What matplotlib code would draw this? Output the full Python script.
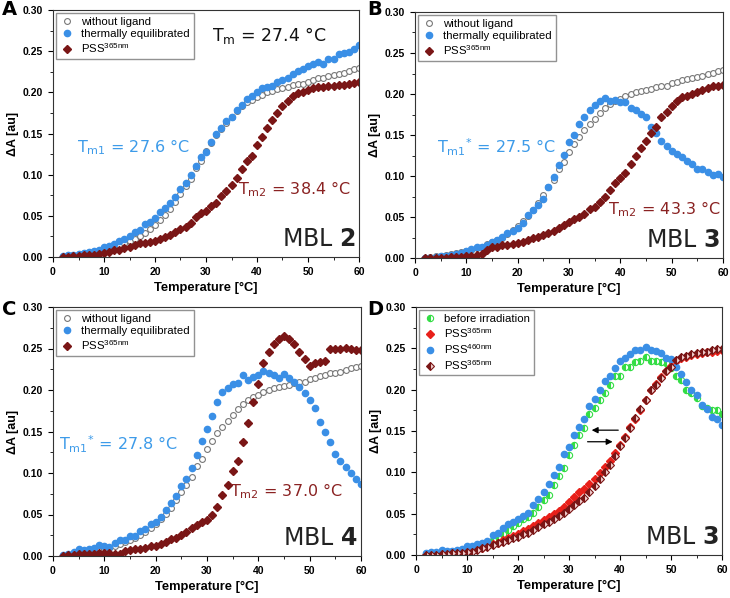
import numpy as np
import matplotlib.pyplot as plt

plt.rcParams['font.family'] = ['Liberation Sans', 'DejaVu Sans']
plt.rcParams['mathtext.default'] = 'regular'
plt.rcParams['mathtext.fontset'] = 'dejavusans'

temp = list(range(2, 61))

# control curve (same in A, B, C)
no_ligand = [0.000, 0.001, 0.002, 0.003, 0.004, 0.005, 0.006, 0.007, 0.009, 0.010,
             0.012, 0.014, 0.017, 0.019, 0.022, 0.025, 0.029, 0.034, 0.039, 0.045,
             0.051, 0.058, 0.067, 0.077, 0.086, 0.095, 0.108, 0.117, 0.129, 0.139,
             0.148, 0.156, 0.163, 0.170, 0.177, 0.183, 0.188, 0.191, 0.194, 0.197,
             0.200, 0.202, 0.204, 0.205, 0.206, 0.209, 0.210, 0.210, 0.213, 0.215,
             0.217, 0.218, 0.220, 0.221, 0.222, 0.224, 0.226, 0.228, 0.229]

a_thermal = [0.001, 0.002, 0.003, 0.004, 0.005, 0.006, 0.007, 0.009, 0.012, 0.013,
             0.016, 0.019, 0.022, 0.025, 0.030, 0.033, 0.040, 0.042, 0.047, 0.055,
             0.060, 0.066, 0.073, 0.083, 0.090, 0.100, 0.111, 0.122, 0.127, 0.140,
             0.150, 0.157, 0.165, 0.170, 0.178, 0.185, 0.192, 0.196, 0.200, 0.205,
             0.207, 0.208, 0.212, 0.215, 0.218, 0.222, 0.226, 0.228, 0.232, 0.235,
             0.237, 0.235, 0.240, 0.240, 0.246, 0.248, 0.249, 0.253, 0.258]
a_pss365 = [0.000, 0.000, 0.001, 0.001, 0.002, 0.002, 0.003, 0.004, 0.005, 0.006,
            0.008, 0.009, 0.011, 0.012, 0.014, 0.017, 0.017, 0.018, 0.020, 0.022,
            0.024, 0.027, 0.030, 0.034, 0.036, 0.041, 0.048, 0.053, 0.056, 0.062,
            0.066, 0.074, 0.080, 0.087, 0.096, 0.107, 0.116, 0.123, 0.136, 0.146,
            0.157, 0.166, 0.175, 0.184, 0.190, 0.195, 0.199, 0.200, 0.203, 0.205,
            0.206, 0.207, 0.208, 0.208, 0.209, 0.209, 0.210, 0.211, 0.212]

b_thermal = [0.000, 0.000, 0.001, 0.002, 0.003, 0.004, 0.005, 0.006, 0.008, 0.011,
             0.013, 0.014, 0.016, 0.019, 0.022, 0.026, 0.031, 0.033, 0.037, 0.043,
             0.052, 0.058, 0.065, 0.072, 0.087, 0.099, 0.113, 0.126, 0.142, 0.150,
             0.163, 0.172, 0.180, 0.187, 0.192, 0.195, 0.192, 0.193, 0.190, 0.190,
             0.183, 0.181, 0.176, 0.172, 0.160, 0.152, 0.143, 0.137, 0.130, 0.127,
             0.123, 0.118, 0.115, 0.108, 0.108, 0.105, 0.101, 0.102, 0.099]
b_pss365 = [0.000, 0.000, 0.000, 0.000, 0.000, 0.001, 0.001, 0.001, 0.002, 0.003,
            0.004, 0.005, 0.010, 0.013, 0.014, 0.016, 0.016, 0.017, 0.018, 0.020,
            0.022, 0.024, 0.026, 0.028, 0.030, 0.033, 0.036, 0.040, 0.044, 0.047,
            0.050, 0.054, 0.060, 0.062, 0.068, 0.074, 0.083, 0.092, 0.097, 0.104,
            0.115, 0.124, 0.134, 0.143, 0.153, 0.160, 0.172, 0.178, 0.185, 0.192,
            0.196, 0.197, 0.200, 0.203, 0.205, 0.207, 0.210, 0.210, 0.211]

c_thermal = [0.001, 0.003, 0.005, 0.008, 0.007, 0.008, 0.010, 0.013, 0.012, 0.011,
             0.016, 0.019, 0.019, 0.024, 0.024, 0.030, 0.032, 0.038, 0.041, 0.047,
             0.055, 0.064, 0.072, 0.084, 0.093, 0.106, 0.122, 0.139, 0.153, 0.169,
             0.186, 0.197, 0.202, 0.207, 0.208, 0.218, 0.212, 0.216, 0.218, 0.223,
             0.220, 0.218, 0.215, 0.219, 0.214, 0.210, 0.204, 0.196, 0.188, 0.178,
             0.162, 0.150, 0.137, 0.123, 0.115, 0.107, 0.100, 0.093, 0.087]
c_pss365 = [0.000, 0.001, 0.001, 0.002, 0.002, 0.003, 0.003, 0.004, 0.004, 0.004,
            0.003, 0.002, 0.006, 0.007, 0.008, 0.008, 0.010, 0.012, 0.012, 0.015,
            0.017, 0.020, 0.022, 0.025, 0.029, 0.034, 0.037, 0.041, 0.043, 0.049,
            0.059, 0.074, 0.086, 0.103, 0.115, 0.137, 0.160, 0.185, 0.207, 0.232,
            0.246, 0.256, 0.262, 0.265, 0.262, 0.256, 0.246, 0.237, 0.229, 0.232,
            0.234, 0.235, 0.249, 0.249, 0.250, 0.251, 0.249, 0.248, 0.248]

d_before = [0.001, 0.002, 0.002, 0.003, 0.004, 0.004, 0.005, 0.006, 0.008, 0.010,
            0.011, 0.013, 0.015, 0.018, 0.021, 0.026, 0.030, 0.035, 0.039, 0.043,
            0.046, 0.051, 0.058, 0.067, 0.073, 0.085, 0.096, 0.105, 0.121, 0.133,
            0.145, 0.154, 0.170, 0.178, 0.187, 0.196, 0.206, 0.216, 0.217, 0.227,
            0.227, 0.234, 0.235, 0.240, 0.235, 0.235, 0.234, 0.232, 0.226, 0.217,
            0.212, 0.200, 0.196, 0.190, 0.180, 0.178, 0.175, 0.176, 0.171]
d_pss365 = [0.000, 0.000, 0.000, 0.001, 0.001, 0.002, 0.002, 0.003, 0.004, 0.005,
            0.007, 0.009, 0.011, 0.013, 0.015, 0.018, 0.020, 0.023, 0.026, 0.029,
            0.032, 0.035, 0.039, 0.042, 0.046, 0.050, 0.053, 0.058, 0.064, 0.070,
            0.076, 0.080, 0.086, 0.092, 0.099, 0.106, 0.114, 0.123, 0.133, 0.143,
            0.155, 0.165, 0.176, 0.187, 0.199, 0.207, 0.215, 0.222, 0.229, 0.235,
            0.238, 0.240, 0.242, 0.243, 0.244, 0.245, 0.246, 0.247, 0.248]
d_pss460 = [0.002, 0.004, 0.004, 0.006, 0.005, 0.005, 0.006, 0.007, 0.011, 0.011,
            0.013, 0.015, 0.017, 0.024, 0.027, 0.033, 0.037, 0.040, 0.043, 0.047,
            0.051, 0.060, 0.068, 0.076, 0.086, 0.097, 0.107, 0.122, 0.131, 0.145,
            0.155, 0.165, 0.180, 0.189, 0.200, 0.211, 0.217, 0.226, 0.235, 0.238,
            0.243, 0.248, 0.248, 0.252, 0.248, 0.247, 0.244, 0.238, 0.237, 0.227,
            0.219, 0.209, 0.200, 0.193, 0.181, 0.177, 0.167, 0.164, 0.157]
d_pss365b = [0.000, 0.000, 0.000, 0.001, 0.001, 0.002, 0.002, 0.003, 0.004, 0.004,
             0.006, 0.008, 0.010, 0.012, 0.014, 0.016, 0.018, 0.020, 0.022, 0.025,
             0.027, 0.030, 0.034, 0.037, 0.040, 0.043, 0.047, 0.051, 0.056, 0.061,
             0.065, 0.069, 0.076, 0.084, 0.092, 0.100, 0.109, 0.120, 0.132, 0.142,
             0.154, 0.166, 0.177, 0.188, 0.200, 0.206, 0.214, 0.222, 0.228, 0.236,
             0.239, 0.241, 0.243, 0.244, 0.245, 0.246, 0.248, 0.249, 0.249]

BLUE = '#3a8fe6'
DRED = '#7a1616'
TXT_BLUE = '#3d9be9'
TXT_RED = '#8a2222'
W, H = 730, 598
LEG = dict(loc='upper left', fontsize=8.2, frameon=True, fancybox=False,
           edgecolor='#777777', borderpad=0.3, handletextpad=0.7,
           labelspacing=0.2, handlelength=1.2, borderaxespad=0.3)

fig = plt.figure(figsize=(7.3, 5.98), dpi=100)


def make_ax(l, t, r, b):
    ax = fig.add_axes([l / W, (H - b) / H, (r - l) / W, (b - t) / H])
    ax.set_xlim(0, 60)
    ax.set_ylim(0, 0.30)
    ax.set_xticks(range(0, 61, 10))
    ax.set_yticks(np.arange(0, 0.31, 0.05))
    ax.set_yticks(np.arange(0.025, 0.30, 0.05), minor=True)
    ax.set_xticks(range(5, 60, 10), minor=True)
    ax.yaxis.set_major_formatter(plt.FormatStrFormatter('%.2f'))
    ax.tick_params(labelsize=7.5, width=0.8, length=3.5)
    ax.tick_params(which='minor', length=2, width=0.6)
    for lab in ax.get_xticklabels() + ax.get_yticklabels():
        lab.set_fontweight('bold')
    for s in ax.spines.values():
        s.set_linewidth(0.8)
        s.set_color('#333333')
    ax.set_xlabel('Temperature [°C]', fontsize=9.3, fontweight='bold', labelpad=4)
    ax.set_ylabel('ΔA [au]', fontsize=9, fontweight='bold', labelpad=3)
    return ax


def three_series(ax, thermal, pss):
    ax.plot(temp, no_ligand, 'o', ms=4.2, mfc='white', mec='#777777', mew=0.8,
            ls='none', label='without ligand')
    ax.plot(temp, thermal, 'o', ms=4.5, color=BLUE, mec=BLUE, ls='none',
            label='thermally equilibrated')
    ax.plot(temp, pss, 'D', ms=3.8, color=DRED, mec=DRED, ls='none',
            label='PSS$^{365nm}$')
    ax.legend(**LEG)


def label(ax, x, y, s, color, size=11.5):
    ax.text(x, y, s, transform=ax.transAxes, fontsize=size, va='center',
            family='DejaVu Sans', color=color)


def mbl(ax, num):
    ax.text(0.99, 0.025, 'MBL $\\mathbf{' + num + '}$', transform=ax.transAxes,
            ha='right', va='bottom', fontsize=17, family='DejaVu Sans',
            color='#222222')


axA = make_ax(53, 10, 359, 257)
three_series(axA, a_thermal, a_pss365)
label(axA, 0.52, 0.895, 'T$_{m}$ = 27.4 °C', '#111111', 12.5)
label(axA, 0.08, 0.445, 'T$_{m1}$ = 27.6 °C', TXT_BLUE)
label(axA, 0.605, 0.275, 'T$_{m2}$ = 38.4 °C', TXT_RED)
mbl(axA, '2')

axB = make_ax(415, 12, 723, 258)
three_series(axB, b_thermal, b_pss365)
label(axB, 0.07, 0.45, 'T$_{m1}$$^{*}$ = 27.5 °C', TXT_BLUE)
label(axB, 0.625, 0.2, 'T$_{m2}$ = 43.3 °C', TXT_RED)
mbl(axB, '3')

axC = make_ax(53, 307, 361, 556)
three_series(axC, c_thermal, c_pss365)
label(axC, 0.02, 0.45, 'T$_{m1}$$^{*}$ = 27.8 °C', TXT_BLUE)
label(axC, 0.575, 0.26, 'T$_{m2}$ = 37.0 °C', TXT_RED)
mbl(axC, '4')

axD = make_ax(416, 307, 722, 555)
axD.plot(temp, d_before, 'o', ms=4.5, fillstyle='left', color='#33dd44',
         mfc='#33dd44', mfcalt='white', mec='#33dd44', mew=0.8, ls='none',
         label='before irradiation')
axD.plot(temp, d_pss365, 'D', ms=3.8, color='#e8201a', mec='#e8201a', ls='none',
         label='PSS$^{365nm}$')
axD.plot(temp, d_pss460, 'o', ms=4.5, color=BLUE, mec=BLUE, ls='none',
         label='PSS$^{460nm}$')
axD.plot(temp, d_pss365b, 'D', ms=3.8, fillstyle='left', color=DRED, mfc=DRED,
         mfcalt='#f3d2d2', mec=DRED, mew=0.8, ls='none', label='PSS$^{365nm}$')
axD.legend(**LEG)
axD.annotate('', xy=(33.9, 0.151), xytext=(40.2, 0.151),
             arrowprops=dict(arrowstyle='-|>', color='black', lw=0.9,
                             mutation_scale=9))
axD.annotate('', xy=(39.1, 0.137), xytext=(33.1, 0.137),
             arrowprops=dict(arrowstyle='-|>', color='black', lw=0.9,
                             mutation_scale=9))
mbl(axD, '3')

for lbl, px, py in [('A', 2, 0), ('B', 367, 0), ('C', 2, 300), ('D', 367, 300)]:
    fig.text(px / W, 1 - py / H, lbl, fontsize=14, fontweight='bold',
             ha='left', va='top', family='DejaVu Sans')

plt.savefig('out.png', dpi=100)
